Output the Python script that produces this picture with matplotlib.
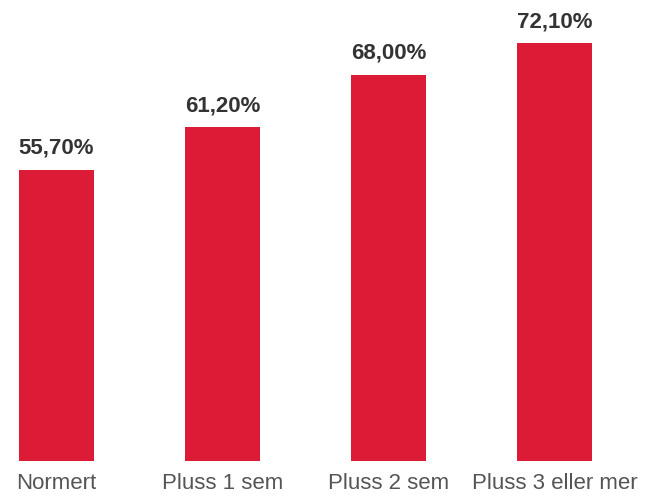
import numpy as np
import matplotlib.pyplot as plt

categories = ["Normert", "Pluss 1 sem", "Pluss 2 sem", "Pluss 3 eller mer"]
values = [55.7, 61.2, 68.0, 72.1]
value_labels = ["55,70%", "61,20%", "68,00%", "72,10%"]

plt.rcParams['font.family'] = ['Liberation Sans', 'DejaVu Sans']

fig = plt.figure(figsize=(6.54, 4.94), dpi=100)
ax = fig.add_axes([0, 33.3 / 494, 1, 460.7 / 494])

x = np.arange(len(categories))
bars = ax.bar(x, values, width=0.45, color="#dc1b36")

for b, lab in zip(bars, value_labels):
    ax.annotate(lab, (b.get_x() + b.get_width() / 2, b.get_height()),
                xytext=(0, 8), textcoords="offset points",
                ha="center", va="bottom", fontsize=16, fontweight="bold",
                color="#333333")

ax.set_xlim(-0.34, 3.6)
ax.set_ylim(18.0, 77.7)
ax.set_xticks(x)
ax.set_xticklabels(categories, fontsize=16, color="#555555")
ax.tick_params(axis="x", length=0, pad=9)
ax.set_yticks([])
for s in ax.spines.values():
    s.set_visible(False)

fig.savefig("out.png", dpi=100)
